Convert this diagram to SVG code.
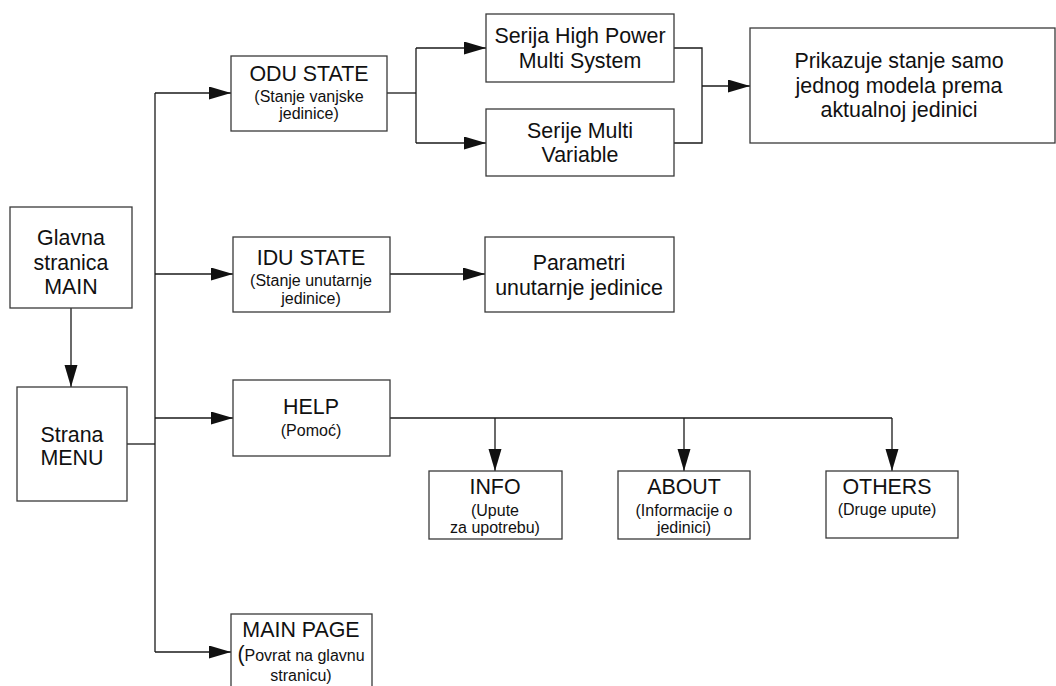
<svg xmlns="http://www.w3.org/2000/svg" width="1056" height="686" viewBox="0 0 1056 686">
<style>
.box{fill:#fff;stroke:#3a3a3a;stroke-width:1.3}
.ln{fill:none;stroke:#1a1a1a;stroke-width:1.3}
.t{font-family:"Liberation Sans",Arial,sans-serif;font-size:21.4px;fill:#111;text-anchor:middle}
.s{font-family:"Liberation Sans",Arial,sans-serif;font-size:16px;fill:#111;text-anchor:middle}
</style>
<defs>
<marker id="ah" markerUnits="userSpaceOnUse" markerWidth="23" markerHeight="14" refX="22" refY="6.5" orient="auto">
<path d="M0,0 L22,6.5 L0,13 z" fill="#111"/>
</marker>
</defs>
<rect width="1056" height="686" fill="#fff"/>
<g id="connectors">
<path class="ln" d="M71,308 V387" marker-end="url(#ah)"/>
<path class="ln" d="M127,444 H155"/>
<path class="ln" d="M155,93 V652"/>
<path class="ln" d="M155,93 H231" marker-end="url(#ah)"/>
<path class="ln" d="M155,274 H233" marker-end="url(#ah)"/>
<path class="ln" d="M155,418 H233" marker-end="url(#ah)"/>
<path class="ln" d="M155,652 H231" marker-end="url(#ah)"/>
<path class="ln" d="M387,93 H416"/>
<path class="ln" d="M416,48 V143"/>
<path class="ln" d="M416,48 H486" marker-end="url(#ah)"/>
<path class="ln" d="M416,143 H486" marker-end="url(#ah)"/>
<path class="ln" d="M674,48 H702 V143 H674"/>
<path class="ln" d="M702,86 H750" marker-end="url(#ah)"/>
<path class="ln" d="M390,274 H485" marker-end="url(#ah)"/>
<path class="ln" d="M390,418 H892"/>
<path class="ln" d="M495,418 V471" marker-end="url(#ah)"/>
<path class="ln" d="M684,418 V471" marker-end="url(#ah)"/>
<path class="ln" d="M892,418 V471" marker-end="url(#ah)"/>
</g>
<g id="glavna">
<rect class="box" x="10" y="207" width="122" height="101"/>
<text class="t" x="71" y="245">Glavna</text>
<text class="t" x="71" y="270">stranica</text>
<text class="t" x="71" y="294">MAIN</text>
</g>
<g id="strana">
<rect class="box" x="17" y="387" width="110" height="114"/>
<text class="t" x="72" y="442">Strana</text>
<text class="t" x="72" y="465">MENU</text>
</g>
<g id="odu">
<rect class="box" x="231" y="56" width="156" height="75"/>
<text class="t" x="309" y="81">ODU STATE</text>
<text class="s" x="309" y="102">(Stanje vanjske</text>
<text class="s" x="309" y="119">jedinice)</text>
</g>
<g id="serija">
<rect class="box" x="486" y="14" width="188" height="68"/>
<text class="t" x="580" y="43">Serija High Power</text>
<text class="t" x="580" y="68">Multi System</text>
</g>
<g id="serije">
<rect class="box" x="486" y="109" width="188" height="67"/>
<text class="t" x="580" y="138">Serije Multi</text>
<text class="t" x="580" y="162">Variable</text>
</g>
<g id="prikazuje">
<rect class="box" x="750" y="28" width="305" height="115"/>
<text class="t" x="899" y="68">Prikazuje stanje samo</text>
<text class="t" x="899" y="93">jednog modela prema</text>
<text class="t" x="899" y="117">aktualnoj jedinici</text>
</g>
<g id="idu">
<rect class="box" x="233" y="237" width="157" height="75"/>
<text class="t" x="311" y="265">IDU STATE</text>
<text class="s" x="311" y="286">(Stanje unutarnje</text>
<text class="s" x="311" y="304">jedinice)</text>
</g>
<g id="parametri">
<rect class="box" x="485" y="237" width="189" height="75"/>
<text class="t" x="579" y="270">Parametri</text>
<text class="t" x="579" y="295">unutarnje jedinice</text>
</g>
<g id="help">
<rect class="box" x="233" y="380" width="157" height="76"/>
<text class="t" x="311" y="414">HELP</text>
<text class="s" x="311" y="436">(Pomoć)</text>
</g>
<g id="info">
<rect class="box" x="429" y="471" width="133" height="68"/>
<text class="t" x="495" y="494">INFO</text>
<text class="s" x="495" y="516">(Upute</text>
<text class="s" x="495" y="533">za upotrebu)</text>
</g>
<g id="about">
<rect class="box" x="618" y="471" width="132" height="68"/>
<text class="t" x="684" y="494">ABOUT</text>
<text class="s" x="684" y="516">(Informacije o</text>
<text class="s" x="684" y="533">jedinici)</text>
</g>
<g id="others">
<rect class="box" x="826" y="471" width="132" height="67"/>
<text class="t" x="887" y="494">OTHERS</text>
<text class="s" x="887" y="515">(Druge upute)</text>
</g>
<g id="mainpage">
<rect class="box" x="231" y="614" width="141" height="80"/>
<text class="t" x="301" y="637">MAIN PAGE</text>
<text class="s" x="301" y="661"><tspan font-size="21.4px">(</tspan>Povrat na glavnu</text>
<text class="s" x="301" y="681">stranicu)</text>
</g>
</svg>
